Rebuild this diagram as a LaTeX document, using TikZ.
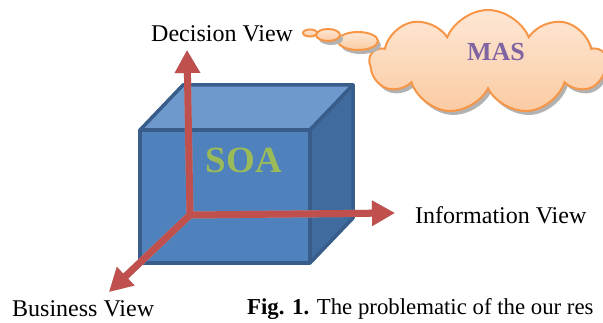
\documentclass[tikz,border=0pt]{standalone}
\usepackage{fontspec}
\setmainfont{Liberation Serif}
\usetikzlibrary{shapes.geometric, shapes.symbols, arrows.meta}
\definecolor{soafront}{HTML}{4F81BD}
\definecolor{soatop}{HTML}{6E99CC}
\definecolor{soaside}{HTML}{3F6B9F}
\definecolor{soaedge}{HTML}{385D8A}
\definecolor{axisred}{HTML}{C0504D}
\definecolor{cloudedge}{HTML}{F79646}
\definecolor{cloudlight}{HTML}{FDE7D5}
\definecolor{clouddark}{HTML}{FBCBA2}
\definecolor{maspurple}{HTML}{8064A2}
\definecolor{soagreen}{HTML}{9BBB59}
\tikzstyle{viewtext} = [inner sep=0pt, anchor=base west, font=\fontsize{24}{28}\selectfont]
\tikzstyle{face} = [draw=soaedge, line width=3.5pt, line join=round]
\tikzstyle{axis} = [draw=axisred, line width=7pt, -{Triangle[width=24pt,length=23pt]}]
\tikzstyle{axisshadow} = [draw=black!30, line width=7pt, -{Triangle[width=24pt,length=23pt]}, shift={(2,3)}]
\tikzstyle{puff} = [draw=cloudedge, line width=2pt, top color=cloudlight, bottom color=clouddark, inner sep=0pt]
\tikzstyle{puffshadow} = [fill=black!30, inner sep=0pt, shift={(3,4)}]
\tikzstyle{bubble} = [ellipse, puff]
\tikzstyle{masshape} = [cloud, cloud puffs=9, cloud puff arc=135, aspect=2.3, minimum width=236pt, minimum height=104pt]

\begin{document}
\begin{tikzpicture}[x=1pt, y=-1pt]
  \useasboundingbox (0,0) rectangle (603,323);

  % the SOA cube
  \fill [soafront] (140,130) rectangle (310,263);
  \filldraw [face, fill=soatop] (140,130) -- (183,85) -- (353,85) -- (310,130) -- cycle;
  \filldraw [face, fill=soaside] (310,130) -- (353,85) -- (353,218) -- (310,263) -- cycle;
  \draw [face] (140,130) rectangle (310,263);
  \node (soa) [inner sep=0pt, text=soagreen, font=\fontsize{37}{40}\selectfont\bfseries] at (244,160) {SOA};

  % axes
  \coordinate (origin) at (190,215);
  \coordinate (dectip) at (187,50);
  \coordinate (infotip) at (395,213);
  \coordinate (bustip) at (109,292);
  \draw [axisshadow] (origin) -- (dectip);
  \draw [axisshadow] (origin) -- (infotip);
  \draw [axisshadow] (origin) -- (bustip);
  \draw [axis] (origin) -- (dectip);
  \draw [axis] (origin) -- (infotip);
  \draw [axis] (origin) -- (bustip);

  \node (dec) [viewtext] at (151,42) {Decision View};
  \node (info) [viewtext] at (415,224) {Information View};
  \node (bus) [viewtext] at (12,317) {Business View};

  % MAS thought cloud
  \node [masshape, puffshadow] at (488,62) {};
  \node (mas) [masshape, puff] at (488,62) {};
  \node (mastext) [inner sep=0pt, text=maspurple, font=\fontsize{26}{30}\selectfont\bfseries] at (496,52) {MAS};
  \node [ellipse, minimum width=40pt, minimum height=18pt, puffshadow] at (358,41) {};
  \node (b3) [bubble, minimum width=40pt, minimum height=18pt] at (358,41) {};
  \node [ellipse, minimum width=24pt, minimum height=12pt, puffshadow] at (328,35) {};
  \node (b2) [bubble, minimum width=24pt, minimum height=12pt] at (328,35) {};
  \node (b1) [bubble, minimum width=14pt, minimum height=7pt] at (310,33) {};

  \node (caption) [viewtext, font=\fontsize{22.8}{27}\selectfont] at (247,315) {\textbf{Fig. 1.} The problematic of the our res};
\end{tikzpicture}
\end{document}
